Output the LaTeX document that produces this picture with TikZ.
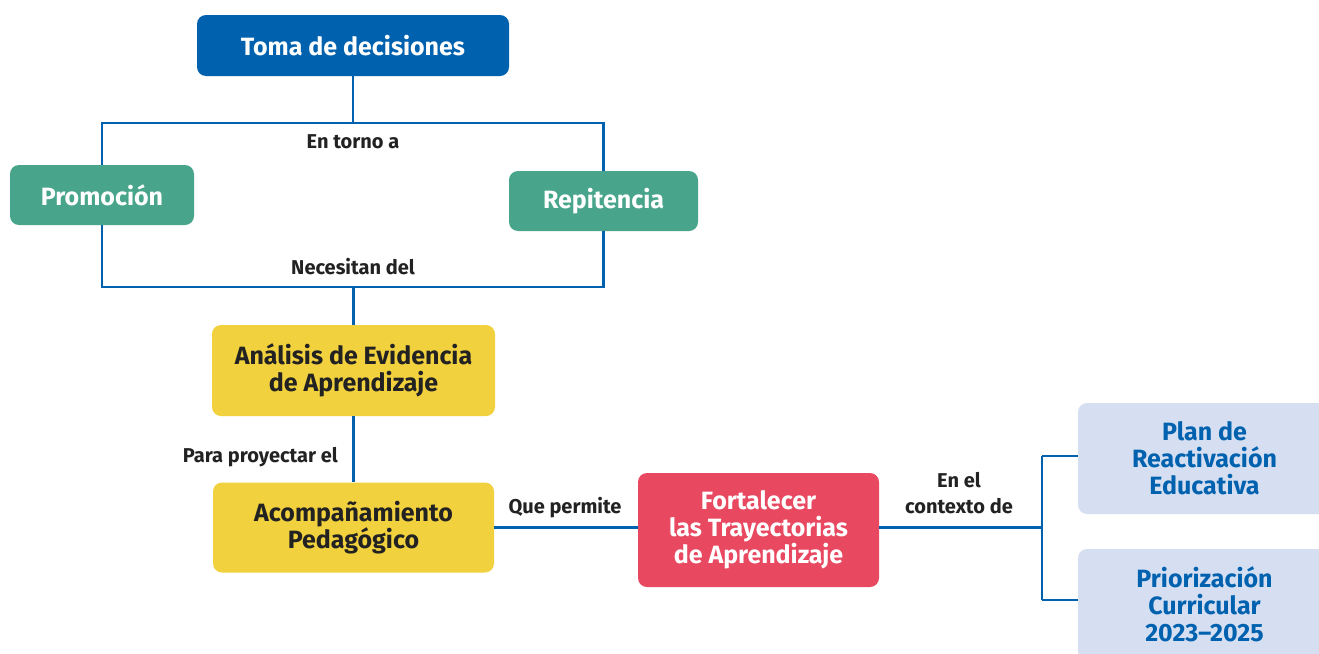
\documentclass[tikz,border=0pt]{standalone}
\usepackage{fontspec}
\setmainfont{Fira Sans}
\definecolor{cblue}{HTML}{0062AF}
\definecolor{cgreen}{HTML}{48A58B}
\definecolor{cyellow}{HTML}{F2D13E}
\definecolor{cred}{HTML}{E84860}
\definecolor{clight}{HTML}{D6DEF1}
\definecolor{ctext}{HTML}{222222}
\begin{document}
\begin{tikzpicture}[x=1pt,y=-1pt,
  box/.style={rounded corners=9pt,inner sep=0pt,align=center,
    font=\fontsize{25}{27}\selectfont\bfseries},
  lbl/.style={inner sep=0pt,align=center,text=ctext,
    font=\fontsize{20}{26}\selectfont\bfseries},
  conn/.style={draw=cblue,line width=2.6pt}]
\clip (0,0) rectangle (1319,653);
\fill[white] (0,0) rectangle (1319,653);
% boxes
\node[box,fill=cblue,text=white,minimum width=312pt,minimum height=61pt] (toma) at (353,45.5) {Toma de decisiones};
\node[box,fill=cgreen,text=white,minimum width=184pt,minimum height=60pt] (promo) at (102,195) {Promoción};
\node[box,fill=cgreen,text=white,minimum width=189pt,minimum height=60pt] (repit) at (603.5,201) {Repitencia};
\node[box,fill=cyellow,text=ctext,minimum width=283pt,minimum height=91pt] (anal) at (353.5,370.5) {Análisis de Evidencia\\de Aprendizaje};
\node[box,fill=cyellow,text=ctext,minimum width=281pt,minimum height=90pt] (acomp) at (353.5,527.5) {Acompañamiento\\Pedagógico};
\node[box,fill=cred,text=white,minimum width=241pt,minimum height=114pt] (fort) at (758.5,530) {Fortalecer\\las Trayectorias\\de Aprendizaje};
\node[box,fill=clight,text=cblue,minimum width=253pt,minimum height=111pt] (plan) at (1204.5,458.5) {Plan de\\Reactivación\\Educativa};
\node[box,fill=clight,text=cblue,minimum width=253pt,minimum height=111pt] (prior) at (1204.5,604.5) {Priorización\\Curricular\\2023–2025};
% coordinates
\coordinate (tm) at (353,123);
\coordinate (tl) at (102,123);
\coordinate (tr) at (603.5,123);
\coordinate (bm) at (353.5,287);
\coordinate (bl) at (102,287);
\coordinate (br) at (603.5,287);
\coordinate (rm) at (1042,527.5);
\coordinate (rt) at (1042,456);
\coordinate (rb) at (1042,600);
% connectors
\draw[conn] (toma.south) -- (tm);
\draw[conn] (promo.north) -- (tl) -- (tr) -- (repit.north);
\draw[conn] (promo.south) -- (bl) -- (br) -- (repit.south);
\draw[conn] (bm) -- (anal.north);
\draw[conn] (anal.south) -- (acomp.north);
\draw[conn] (acomp.east) -- (acomp.east -| fort.west);
\draw[conn] (fort.east |- rm) -- (rm);
\draw[conn] (rt) -- (rb);
\draw[conn] (rt) -- (rt -| plan.west);
\draw[conn] (rb) -- (rb -| prior.west);
% labels
\node[lbl] (l1) at (353,142) {En torno a};
\node[lbl] (l2) at (353,267) {Necesitan del};
\node[lbl,anchor=east] (l3) at (338,457) {Para proyectar el};
\node[lbl] (l4) at (565,508) {Que permite};
\node[lbl] (l5) at (959,493) {En el\\contexto de};
\end{tikzpicture}
\end{document}
